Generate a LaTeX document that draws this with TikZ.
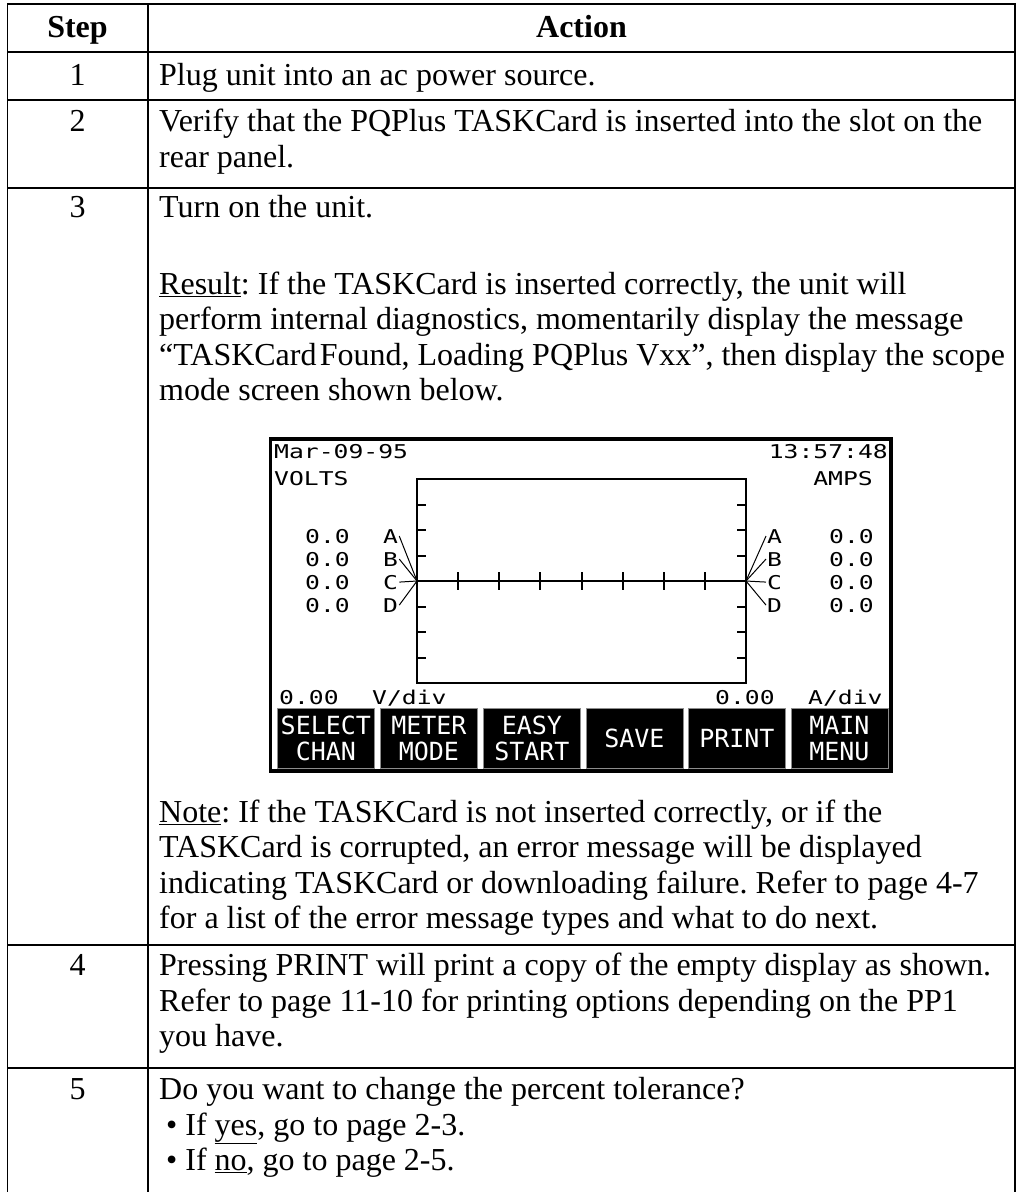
\documentclass[tikz,border=0pt]{standalone}
\usepackage{fontspec}
\setmainfont{Liberation Serif}
\newfontfamily\lcdfont[FakeStretch=1.3]{DejaVu Sans Mono}
\newfontfamily\keyfont{DejaVu Sans Mono}
\frenchspacing
\begin{document}
\begin{tikzpicture}[x=1pt,y=-1pt,
  txt/.style={anchor=base west,inner sep=0pt,font=\fontsize{32}{38}\selectfont},
  num/.style={anchor=base,inner sep=0pt,font=\fontsize{32}{38}\selectfont},
  hdr/.style={anchor=base,inner sep=0pt,font=\fontsize{32}{38}\selectfont\bfseries},
  tabrule/.style={line width=1.4pt},
  lcd/.style={inner sep=0pt,font=\fontsize{19}{19}\lcdfont},
  keybox/.style={fill=black,draw=black!45,line width=0.8pt,minimum width=97pt,minimum height=60pt,
    text=white,inner sep=0pt,align=center,font=\fontsize{25}{26}\keyfont},
  scr/.style={line width=2pt},
  lead/.style={line width=1pt},
]
\useasboundingbox (0,0) rectangle (1018,1192);
% table frame
\draw[tabrule] (7.5,1192) -- (7.5,4) -- (1015,4) -- (1015,1192);
\draw[tabrule] (148,4) -- (148,1192);
\foreach \yy in {52,100,188,945,1068} \draw[tabrule] (7.5,\yy) -- (1015,\yy);
% header
\node[hdr] (hstep) at (77.5,37) {Step};
\node[hdr] (hact) at (581.5,37) {Action};
% row 1
\node[num] (n1) at (77.5,85) {1};
\node[txt] (r1) at (159,85) {Plug unit into an ac power source.};
% row 2
\node[num] (n2) at (77.5,131) {2};
\node[txt] (r2a) at (159,131) {Verify that the PQPlus TASKCard is inserted into the slot on the};
\node[txt] (r2b) at (159,167) {rear panel.};
% row 3
\node[num] (n3) at (77.5,217) {3};
\node[txt] (r3a) at (159,217) {Turn on the unit.};
\node[txt] (r3b) at (159,294) {\underline{Result}: If the TASKCard is inserted correctly, the unit will};
\node[txt] (r3c) at (159,329.5) {perform internal diagnostics, momentarily display the message};
\node[txt] (r3d) at (159,365) {“TASKCard\hspace{0.1em}Found, Loading PQPlus Vxx”, then display the scope};
\node[txt] (r3e) at (159,400.5) {mode screen shown below.};
\node[txt] (r3f) at (159,822) {\underline{Note}: If the TASKCard is not inserted correctly, or if the};
\node[txt] (r3g) at (159,857.5) {TASKCard is corrupted, an error message will be displayed};
\node[txt] (r3h) at (159,893) {indicating TASKCard or downloading failure. Refer to page 4-7};
\node[txt] (r3i) at (159,928.5) {for a list of the error message types and what to do next.};
% row 4
\node[num] (n4) at (77.5,975.5) {4};
\node[txt] (r4a) at (159,975.5) {Pressing PRINT will print a copy of the empty display as shown.};
\node[txt] (r4b) at (159,1011) {Refer to page 11-10 for printing options depending on the PP1};
\node[txt] (r4c) at (159,1046.5) {you have.};
% row 5
\node[num] (n5) at (77.5,1099.5) {5};
\node[txt] (r5a) at (159,1099.5) {Do you want to change the percent tolerance?};
\node[txt] (r5b) at (166,1135) {\textbullet\ If \underline{yes}, go to page 2-3.};
\node[txt] (r5c) at (166,1170.5) {\textbullet\ If \underline{no}, go to page 2-5.};
% ---------- screen ----------
\draw[line width=3.5pt] (270.5,439) rectangle (891,771);
\node[lcd,anchor=base west] (date) at (274,458) {Mar-09-95};
\node[lcd,anchor=base east] (time) at (888,458) {13:57:48};
\node[lcd,anchor=base west] (volts) at (274,485) {VOLTS};
\node[lcd,anchor=base east] (amps) at (873,485) {AMPS};
% graph
\draw[scr] (417,479) rectangle (746,683);
\draw[scr] (417,581) -- (746,581);
\coordinate (lo) at (417,581);
\coordinate (ro) at (746,581);
\foreach \k in {1,...,7} {
  \draw[scr] (417,479+25.5*\k) -- (426,479+25.5*\k);
  \draw[scr] (746,479+25.5*\k) -- (737,479+25.5*\k);
  \draw[scr] (417+41.125*\k,572) -- (417+41.125*\k,590);
}
% channel labels
\foreach \ch/\yy in {A/543,B/566,C/589,D/612} {
  \node[lcd,anchor=base west] (lv\ch) at (305,\yy) {0.0};
  \node[lcd,anchor=base west] (l\ch) at (383,\yy) {\ch};
  \node[lcd,anchor=base west] (r\ch) at (767,\yy) {\ch};
  \node[lcd,anchor=base east] (rv\ch) at (874,\yy) {0.0};
  \draw[lead] ([xshift=1pt]l\ch.east) -- (lo);
  \draw[lead] (ro) -- ([xshift=-1pt]r\ch.west);
}
% bottom scale labels
\node[lcd,anchor=base west] (vsc) at (279,704) {0.00};
\node[lcd,anchor=base west] (vdiv) at (372,704) {V/div};
\node[lcd,anchor=base west] (asc) at (715,704) {0.00};
\node[lcd,anchor=base west] (adiv) at (808,704) {A/div};
% soft keys
\node[keybox,anchor=north west] (k1) at (277,708) {SELECT\\CHAN};
\node[keybox,anchor=north west] (k2) at (380,708) {METER\\MODE};
\node[keybox,anchor=north west] (k3) at (483,708) {EASY\\START};
\node[keybox,anchor=north west] (k4) at (585.5,708) {SAVE};
\node[keybox,anchor=north west] (k5) at (688,708) {PRINT};
\node[keybox,anchor=north west] (k6) at (790.5,708) {MAIN\\MENU};
\end{tikzpicture}
\end{document}
